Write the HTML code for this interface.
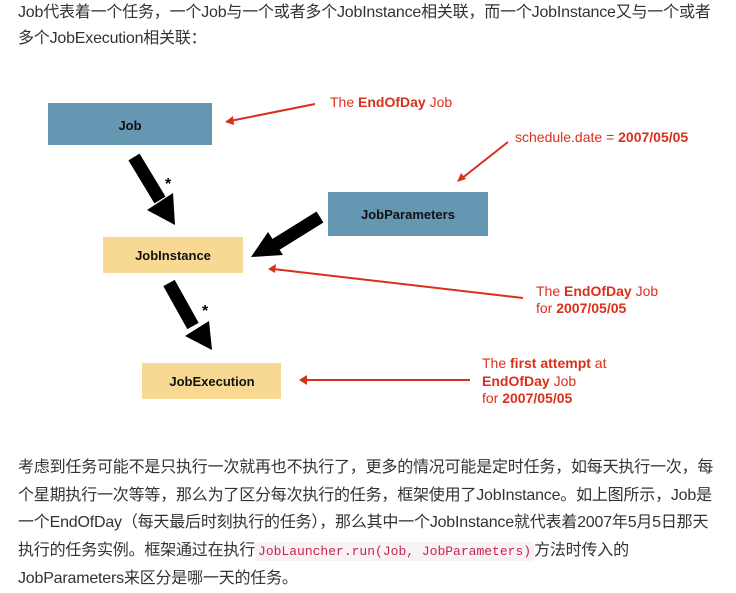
<!DOCTYPE html>
<html><head><meta charset="utf-8"><style>
body{margin:0;width:736px;height:586px;background:#fff;position:relative;overflow:hidden;font-family:"Liberation Sans","Noto Sans CJK SC",sans-serif;color:#333}
.p{position:absolute;left:18px;font-size:16px;line-height:27.5px;white-space:nowrap;letter-spacing:-0.2px}
code{font-family:"Liberation Mono",monospace;font-size:13px;color:#c7254e;background:#f9f2f4;padding:2px 3px;border-radius:3px;letter-spacing:0}
</style></head><body>
<div class="p" style="top:0px;line-height:26px">Job代表着一个任务，一个Job与一个或者多个JobInstance相关联，而一个JobInstance又与一个或者<br>多个JobExecution相关联：</div>
<svg style="position:absolute;left:0;top:0" width="736" height="586" font-family="Liberation Sans,sans-serif">
<rect x="48" y="103" width="164" height="42" fill="#6596b2"/>
<text x="130" y="130" font-size="13" font-weight="bold" text-anchor="middle" fill="#111">Job</text>
<rect x="328" y="192" width="160" height="44" fill="#6596b2"/>
<text x="408" y="219" font-size="13" font-weight="bold" text-anchor="middle" fill="#111">JobParameters</text>
<rect x="103" y="237" width="140" height="36" fill="#f8d993"/>
<text x="173" y="260" font-size="13" font-weight="bold" text-anchor="middle" fill="#111">JobInstance</text>
<rect x="142" y="363" width="139" height="36" fill="#f8d993"/>
<text x="212" y="386" font-size="13" font-weight="bold" text-anchor="middle" fill="#111">JobExecution</text>
<g stroke="#000" stroke-width="13" fill="#000">
<line x1="134" y1="157" x2="160" y2="200"/>
<line x1="169" y1="283" x2="193" y2="326"/>
<line x1="320" y1="217" x2="275" y2="245"/>
</g>
<g fill="#000">
<polygon points="147,210 173,193 175,225"/>
<polygon points="185,336 209,321 212,350"/>
<polygon points="268,232 283,255 251,257"/>
</g>
<text x="165" y="189" font-size="16" font-weight="bold">*</text>
<text x="202" y="316" font-size="16" font-weight="bold">*</text>
<g stroke="#d9301c" stroke-width="2" fill="#d9301c">
<line x1="315" y1="104" x2="230" y2="121"/>
<polygon points="225,122 233,116 234,125" stroke="none"/>
<line x1="508" y1="142" x2="461" y2="179"/>
<polygon points="457,182 461,173 466,179" stroke="none"/>
<line x1="523" y1="298" x2="273" y2="269"/>
<polygon points="268,269 276,264 275,273" stroke="none"/>
<line x1="470" y1="380" x2="305" y2="380"/>
<polygon points="299,380 307,375 307,385" stroke="none"/>
</g>
<g fill="#d9301c" font-size="14">
<text x="330" y="107">The <tspan font-weight="bold">EndOfDay</tspan> Job</text>
<text x="515" y="142">schedule.date = <tspan font-weight="bold">2007/05/05</tspan></text>
<text x="536" y="296">The <tspan font-weight="bold">EndOfDay</tspan> Job</text>
<text x="536" y="313">for <tspan font-weight="bold">2007/05/05</tspan></text>
<text x="482" y="368">The <tspan font-weight="bold">first attempt</tspan> at</text>
<text x="482" y="386"><tspan font-weight="bold">EndOfDay</tspan> Job</text>
<text x="482" y="403">for <tspan font-weight="bold">2007/05/05</tspan></text>
</g>
</svg>
<div class="p" style="top:454px">考虑到任务可能不是只执行一次就再也不执行了，更多的情况可能是定时任务，如每天执行一次，每<br>个星期执行一次等等，那么为了区分每次执行的任务，框架使用了JobInstance。如上图所示，Job是<br>一个EndOfDay（每天最后时刻执行的任务），那么其中一个JobInstance就代表着2007年5月5日那天<br>执行的任务实例。框架通过在执行<code>JobLauncher.run(Job, JobParameters)</code>方法时传入的<br>JobParameters来区分是哪一天的任务。</div>
</body></html>
